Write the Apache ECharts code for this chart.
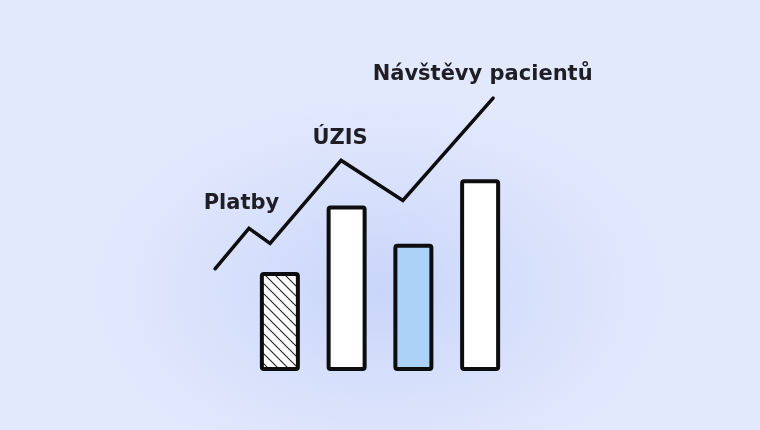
<!DOCTYPE html>
<html>
<head>
<meta charset="utf-8">
<script src="https://cdn.jsdelivr.net/npm/echarts@6/dist/echarts.min.js"></script>
<style>
  html, body { margin: 0; padding: 0; }
  body {
    width: 760px; height: 430px; overflow: hidden;
    background: radial-gradient(ellipse 300px 200px at 380px 290px, #c9d5fa 0%, #d6dffb 45%, #e3e9fd 100%);
  }
  #chart { width: 760px; height: 430px; }
</style>
</head>
<body>
<div id="chart"></div>
<script>
// bars (heights on a 0-100 scale)
const barCategories = ['A', 'B', 'C', 'D']
const barValues = [32.7, 54.6, 42, 63.3]

// trend line
const lineX = [4.7, 15.3, 21.9, 44.1, 63.4, 91.6]
const lineY = [33.3, 46.7, 41.7, 69.3, 56, 90]
const lineLabels = ['', 'Platby', '', 'ÚZIS', '', 'Návštěvy pacientů']

const ink = '#0d0d0f'

// hatch pattern for the first bar
function hatchPattern() {
  const s = 10
  const cv = document.createElement('canvas')
  cv.width = s
  cv.height = s
  const ctx = cv.getContext('2d')
  ctx.fillStyle = '#ffffff'
  ctx.fillRect(0, 0, s, s)
  ctx.strokeStyle = '#222222'
  ctx.lineWidth = 1.1
  ctx.beginPath()
  ctx.moveTo(-1, -1); ctx.lineTo(s + 1, s + 1)
  ctx.moveTo(-1, s - 1); ctx.lineTo(1, s + 1)
  ctx.moveTo(s - 1, -1); ctx.lineTo(s + 1, 1)
  ctx.stroke()
  return cv
}

const barColors = [{ image: hatchPattern(), repeat: 'repeat' }, '#ffffff', '#add2f7', '#ffffff']

const labelOffsets = [[0, 0], [-7.5, 0], [0, 0], [-1, 3], [0, 0], [-10.5, 1]]

const chart = echarts.init(document.getElementById('chart'))

chart.setOption({
  animation: false,
  backgroundColor: 'transparent',
  grid: [
    { left: 246.5, right: 246.5, top: 68, bottom: 59 },
    { left: 200, right: 240, top: 68, bottom: 61 },
  ],
  xAxis: [
    { type: 'category', gridIndex: 0, data: barCategories, show: false },
    { type: 'value', gridIndex: 1, min: 0, max: 100, show: false },
  ],
  yAxis: [
    { type: 'value', gridIndex: 0, min: 0, max: 100, show: false },
    { type: 'value', gridIndex: 1, min: 0, max: 100, show: false },
  ],
  series: [
    {
      type: 'bar',
      xAxisIndex: 0,
      yAxisIndex: 0,
      barWidth: 40,
      data: barValues.map((v, i) => ({
        value: v,
        itemStyle: { color: barColors[i] },
      })),
      itemStyle: { borderColor: ink, borderWidth: 4, borderRadius: 2 },
    },
    {
      type: 'line',
      xAxisIndex: 1,
      yAxisIndex: 1,
      symbol: 'circle',
      symbolSize: 0,
      itemStyle: { color: ink },
      lineStyle: { color: ink, width: 3.5, cap: 'round', join: 'miter' },
      data: lineX.map((x, i) => ({
        value: [x, lineY[i]],
        label: {
          show: lineLabels[i] !== '',
          formatter: lineLabels[i],
          position: 'top',
          offset: labelOffsets[i],
          distance: 14,
          color: '#1e1e24',
          fontFamily: 'DejaVu Sans',
          fontWeight: 700,
          fontSize: 21,
        },
      })),
    },
  ],
})
</script>
</body>
</html>
